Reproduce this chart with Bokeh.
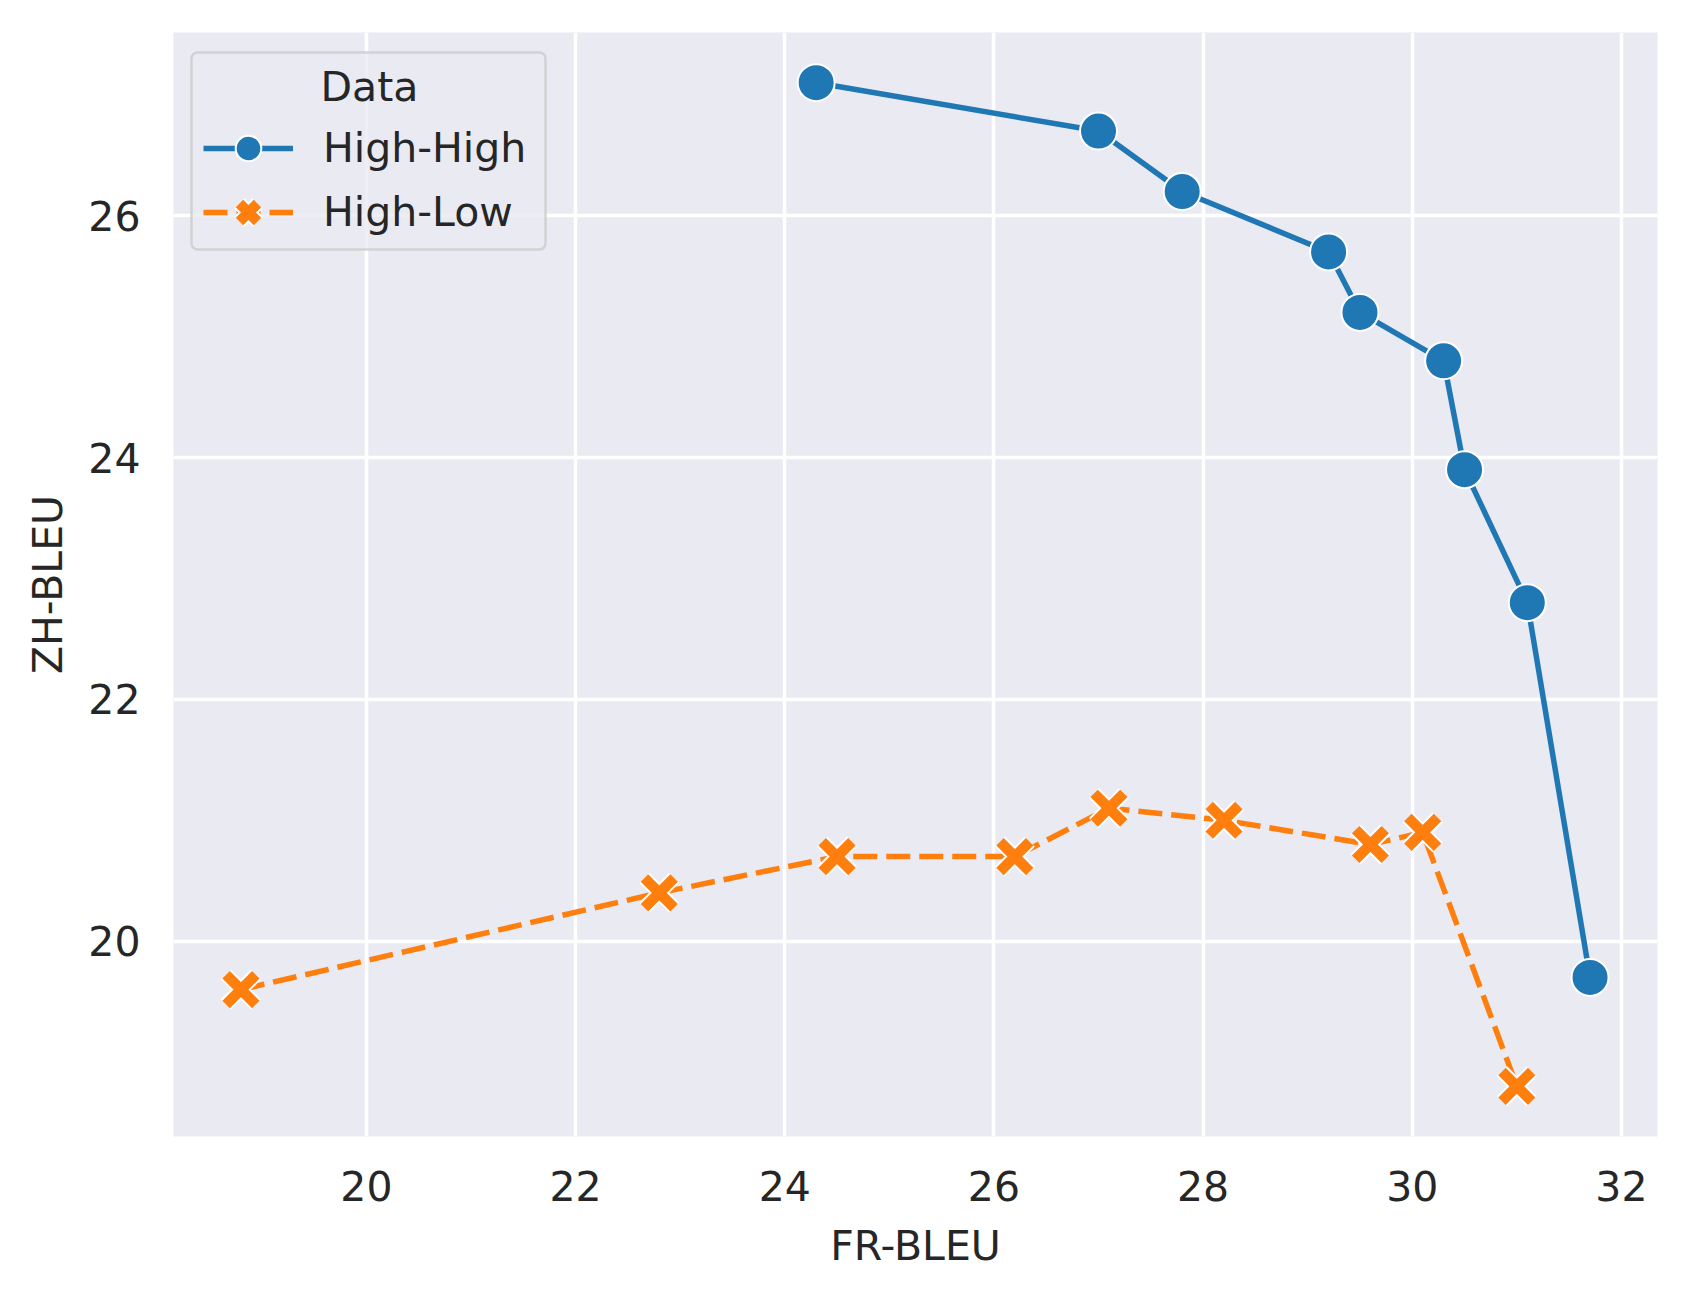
from bokeh.plotting import figure
from bokeh.models import Legend, LegendItem, Label, FixedTicker, Range1d, BoxAnnotation
from bokeh.embed import file_html
from bokeh.resources import INLINE

# ---- data ----
series_names = ["High-High", "High-Low"]
legend_title = "Data"
x_label = "FR-BLEU"
y_label = "ZH-BLEU"

hh_fr = [24.3, 27.0, 27.8, 29.2, 29.5, 30.3, 30.5, 31.1, 31.7]
hh_zh = [27.1, 26.7, 26.2, 25.7, 25.2, 24.8, 23.9, 22.8, 19.7]

hl_fr = [18.8, 22.8, 24.5, 26.2, 27.1, 28.2, 29.6, 30.1, 31.0]
hl_zh = [19.6, 20.4, 20.7, 20.7, 21.1, 21.0, 20.8, 20.9, 18.8]

x_ticks = [20, 22, 24, 26, 28, 30, 32]
y_ticks = [20, 22, 24, 26]

# ---- styling ----
BLUE = "#1f77b4"
ORANGE = "#ff7f0e"
BG = "#eaeaf2"
TXT = "#262626"
FONT = "DejaVu Sans"
FS = "41px"
FRAME_W, FRAME_H = 1484, 1104

def padded(vals_a, vals_b, frac=0.05):
    lo = min(min(vals_a), min(vals_b))
    hi = max(max(vals_a), max(vals_b))
    m = (hi - lo) * frac
    return lo - m, hi + m

x0, x1 = padded(hh_fr, hl_fr)
y0, y1 = padded(hh_zh, hl_zh)

p = figure(
    frame_width=FRAME_W, frame_height=FRAME_H,
    x_range=Range1d(x0, x1), y_range=Range1d(y0, y1),
    output_backend="svg", toolbar_location=None,
    min_border_left=173, min_border_right=31,
    min_border_top=32, min_border_bottom=162,
    background_fill_color=BG, border_fill_color="white",
    outline_line_color=None,
)

for g in (p.xgrid, p.ygrid):
    g.grid_line_color = "white"
    g.grid_line_width = 3.5
p.xgrid.ticker = FixedTicker(ticks=x_ticks)
p.ygrid.ticker = FixedTicker(ticks=y_ticks)

for ax, ticks in ((p.xaxis[0], x_ticks), (p.yaxis[0], y_ticks)):
    ax.ticker = FixedTicker(ticks=ticks)
    ax.axis_line_color = None
    ax.major_tick_line_color = None
    ax.minor_tick_line_color = None
    ax.major_tick_out = 0
    ax.major_tick_in = 0
    ax.major_label_text_font = FONT
    ax.major_label_text_font_size = FS
    ax.major_label_text_color = TXT
    ax.axis_label_text_font = FONT
    ax.axis_label_text_font_size = FS
    ax.axis_label_text_font_style = "normal"
    ax.axis_label_text_color = TXT

p.xaxis.axis_label = x_label
p.yaxis.axis_label = y_label
p.xaxis.major_label_standoff = 34
p.xaxis.axis_label_standoff = 18
p.yaxis.major_label_standoff = 33
p.yaxis.axis_label_standoff = 13

# ---- legend frame (drawn under the glyphs, as nothing overlaps it) ----
legend_box = BoxAnnotation(
    left=18, right=372, top=FRAME_H - 20, bottom=FRAME_H - 217,
    left_units="screen", right_units="screen",
    top_units="screen", bottom_units="screen",
    fill_color=BG, fill_alpha=0.8,
    line_color="#cccccc", line_alpha=0.8, line_width=2.5,
    border_radius=6, level="underlay",
)
p.add_layout(legend_box)

# ---- series ----
r1 = p.line(hh_fr, hh_zh, line_color=BLUE, line_width=5.5, line_join="round")
r2 = p.scatter(hh_fr, hh_zh, marker="circle", size=37, fill_color=BLUE,
               line_color="white", line_width=2)

r3 = p.line(hl_fr, hl_zh, line_color=ORANGE, line_width=5.5, line_dash="24 9")
r4 = p.scatter(hl_fr, hl_zh, marker="x", size=42, line_color="white", line_width=14.5)
r5 = p.scatter(hl_fr, hl_zh, marker="x", size=42, line_color=ORANGE, line_width=10.5)

legend = Legend(
    items=[LegendItem(label=series_names[0], renderers=[r1, r2]),
           LegendItem(label=series_names[1], renderers=[r3, r4, r5])],
    location="top_left", margin=30, padding=10, spacing=0,
    glyph_width=90, glyph_height=64, label_height=64, label_width=214,
    label_standoff=30,
    label_text_font=FONT, label_text_font_size=FS, label_text_color=TXT,
    background_fill_alpha=0, border_line_color=None,
    title=" ", title_text_font=FONT, title_text_font_size=FS, title_standoff=6,
)
p.add_layout(legend)

title_lbl = Label(x=196, y=1050, x_units="screen", y_units="screen",
                  text=legend_title, text_font=FONT, text_font_size=FS,
                  text_color=TXT, text_align="center", text_baseline="alphabetic",
                  level="overlay")
p.add_layout(title_lbl)

open("out.html", "w").write(file_html(p, INLINE))
